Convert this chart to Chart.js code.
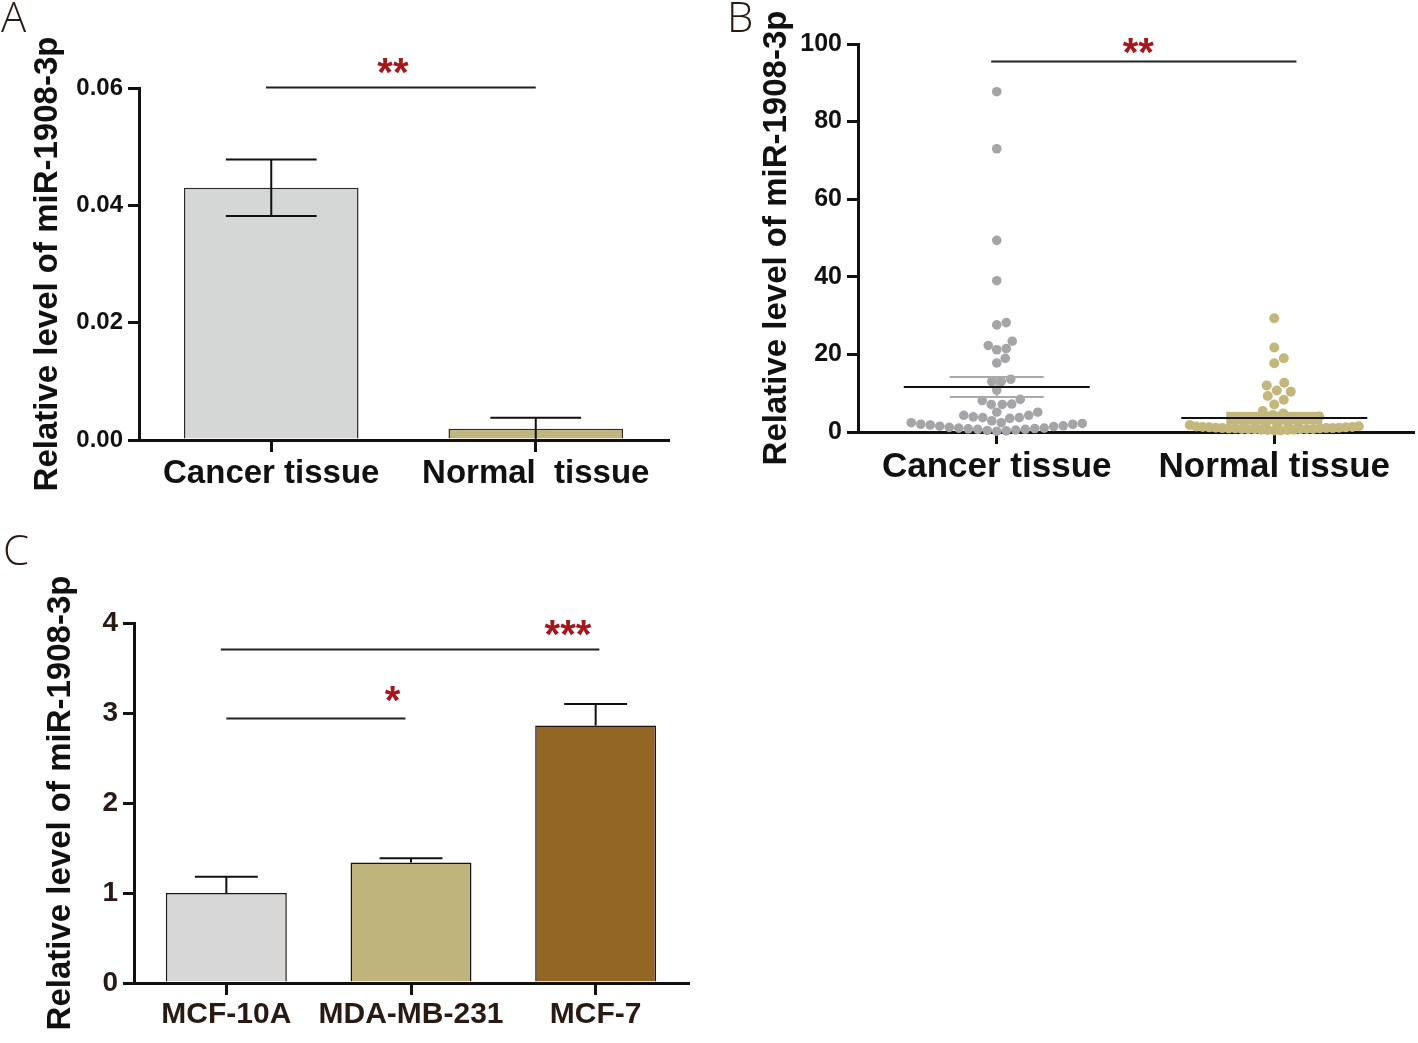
<!DOCTYPE html>
<html>
<head>
<meta charset="utf-8">
<script src="https://cdn.jsdelivr.net/npm/chart.js@4.4.1/dist/chart.umd.min.js"></script>
<style>
  body { margin: 0; background: #fff; }
  #wrap { position: relative; width: 1418px; height: 1043px; overflow: hidden; background: #fff; }
  canvas { position: absolute; }
  .tag { position: absolute; font-family: "Open Sans", "DejaVu Sans", sans-serif; font-weight: 300; font-size: 42px; line-height: 1; color: #2b1a14; }
</style>
</head>
<body>
<div id="wrap">
  <canvas id="chartA" width="700" height="500" style="left:0px;top:0px"></canvas>
  <canvas id="chartB" width="698" height="500" style="left:720px;top:0px"></canvas>
  <canvas id="chartC" width="700" height="513" style="left:0px;top:530px"></canvas>
  <div class="tag" style="left:1px;top:-5px">A</div>
  <div class="tag" style="left:727px;top:-5px">B</div>
  <div class="tag" style="left:3px;top:528px">C</div>
</div>
<script>
// ---------- data ----------
// A: tissue, mean +/- SEM
const tissueLabelsA = ["Cancer tissue", "Normal  tissue"];
const meanA = [0.043, 0.0019];
const semA = [0.0048, 0.0019];
const colorsA = ["#d5d7d6", "#c0b57e"];

// B: individual samples
const tissueLabelsB = ["Cancer tissue", "Normal tissue"];
const cancerB = [87.7, 73.0, 49.4, 39.0, 28.2, 27.6, 23.4, 22.3, 21.5, 21.2,
  19.0, 17.8, 13.6, 13.0, 13.0, 10.8, 8.4, 8.1, 7.2, 7.1,
  7.1, 5.1, 5.1, 4.3, 4.3, 3.9, 3.7, 3.7, 3.5, 2.9,
  2.4, 2.4, 2.2, 2.0, 2.0, 1.8, 1.6, 1.5, 1.4, 1.2,
  1.0, 1.0, 0.9, 0.8, 0.7, 0.7, 0.5, 0.4, 0.3, 0.2];
const normalB = [29.3, 21.8, 19.0, 17.7, 12.7, 12.0, 10.7, 10.4, 9.3, 8.3,
  7.1, 5.4, 4.8, 4.4, 4.0, 3.6, 3.3, 3.0, 2.7, 2.5,
  2.3, 2.1, 1.9, 1.8, 1.5, 1.4, 1.3, 1.3, 1.2, 1.2,
  1.1, 1.1, 1.0, 1.0, 1.0, 0.9, 0.9, 0.9, 0.8, 0.8,
  0.8, 0.7, 0.7, 0.7, 0.6, 0.6, 0.5, 0.5, 0.4, 0.4];
const meanB = [11.6, 3.6];
const semB = [2.6, 1.6];

// C: cell lines
const cellLabelsC = ["MCF-10A", "MDA-MB-231", "MCF-7"];
const meanC = [1.0, 1.34, 2.86];
const semC = [0.18, 0.045, 0.24];
const colorsC = ["#d7d7d7", "#bfb47c", "#936624"];

// significance bars (x in category units, y in data units)
const sigA = [{ from: -0.02, to: 1, y: 0.0601, textX: 0.46, textY: 0.0636, text: "**" }];
const sigB = [{ from: -0.02, to: 1.08, y: 95.5, textX: 0.51, textY: 99.2, text: "**" }];
const sigC = [
  { from: 0, to: 0.97, y: 2.94, textX: 0.9, textY: 3.2, text: "*" },
  { from: -0.03, to: 2.02, y: 3.71, textX: 1.85, textY: 3.93, text: "***" }
];

const yTitle = "Relative level of miR-1908-3p";

// ---------- styles ----------
const INK = "#111";
const BROWN = "#2a1a14";
const RED = "#a3171d";
const arial = '"Liberation Sans", Arial, sans-serif';

// ---------- helpers ----------
function errorBars(sem, both) {
  return {
    id: "errorBars",
    afterDatasetsDraw(chart) {
      const { ctx, scales: { y } } = chart;
      const values = chart.data.datasets[0].data;
      ctx.save();
      ctx.strokeStyle = INK;
      ctx.lineWidth = 2;
      chart.getDatasetMeta(0).data.forEach((bar, i) => {
        const top = y.getPixelForValue(values[i] + sem[i]);
        const bottom = both ? y.getPixelForValue(values[i] - sem[i]) : bar.y;
        const half = bar.width * 0.26;
        ctx.beginPath();
        ctx.moveTo(bar.x, top); ctx.lineTo(bar.x, bottom);
        ctx.moveTo(bar.x - half, top); ctx.lineTo(bar.x + half, top);
        if (both) { ctx.moveTo(bar.x - half, bottom); ctx.lineTo(bar.x + half, bottom); }
        ctx.stroke();
      });
      ctx.restore();
    }
  };
}

function sigMarks(marks) {
  return {
    id: "sigMarks",
    afterDraw(chart) {
      const { ctx, scales: { x, y } } = chart;
      ctx.save();
      marks.forEach(m => {
        const py = Math.round(y.getPixelForValue(m.y)) + 0.5;
        ctx.strokeStyle = "#222";
        ctx.lineWidth = 2;
        ctx.beginPath();
        ctx.moveTo(x.getPixelForValue(m.from), py);
        ctx.lineTo(x.getPixelForValue(m.to), py);
        ctx.stroke();
        ctx.fillStyle = RED;
        ctx.font = "bold 40px " + arial;
        ctx.textAlign = "center";
        ctx.textBaseline = "middle";
        ctx.fillText(m.text, x.getPixelForValue(m.textX), y.getPixelForValue(m.textY) + 8);
      });
      ctx.restore();
    }
  };
}

function axisX(fontSize, color, height) {
  return {
    z: 1,
    grid: { offset: false, drawOnChartArea: false, tickLength: 12, lineWidth: 3, color: INK },
    border: { width: 3, color: INK },
    ticks: { font: { family: arial, size: fontSize, weight: "bold" }, color, padding: 2, maxRotation: 0, autoSkip: false },
    afterFit: (s) => { s.height = height; }
  };
}

function axisY(min, max, step, fmt, fontSize, color, width, titlePad) {
  return {
    min, max,
    grid: { drawOnChartArea: false, tickLength: 11, lineWidth: 3, color: INK },
    border: { width: 3, color: INK },
    ticks: { stepSize: step, callback: fmt, font: { family: arial, size: fontSize, weight: "bold" }, color, padding: 5 },
    title: { display: true, text: yTitle, color: INK, font: { family: arial, size: 33, weight: "bold" }, padding: { top: titlePad, bottom: 0 } },
    afterFit: (s) => { s.width = width; }
  };
}

const base = {
  responsive: false,
  animation: false,
  plugins: { legend: { display: false }, tooltip: { enabled: false } }
};

// ---------- A ----------
new Chart(document.getElementById("chartA"), {
  type: "bar",
  data: {
    labels: tissueLabelsA,
    datasets: [{ data: meanA, backgroundColor: colorsA, borderColor: "#2a2a2a", borderWidth: 1.5,
      barPercentage: 0.66, categoryPercentage: 1 }]
  },
  options: {
    ...base,
    layout: { padding: { top: 88, right: 32, left: 0, bottom: 0 } },
    scales: {
      x: axisX(33, INK, 60),
      y: axisY(0, 0.06, 0.02, v => v.toFixed(2), 24, INK, 139, 28)
    }
  },
  plugins: [errorBars(semA, true), sigMarks(sigA)]
});

// ---------- B ----------
const chartB = new Chart(document.getElementById("chartB"), {
  type: "scatter",
  data: {
    datasets: [
      { data: cancerB.map(v => ({ x: 0, y: v })), backgroundColor: "#a5a5a7", pointRadius: 4.8, borderWidth: 0, clip: false },
      { data: normalB.map(v => ({ x: 1, y: v })), backgroundColor: "#c4b77c", pointRadius: 5, borderWidth: 0, clip: false }
    ]
  },
  options: {
    ...base,
    layout: { padding: { top: 44, right: 5, left: 0, bottom: 0 } },
    scales: {
      x: {
        ...axisX(35, INK, 68),
        type: "linear", min: -0.5, max: 1.5,
        afterBuildTicks: (s) => { s.ticks = tissueLabelsB.map((_, i) => ({ value: i })); },
        ticks: { font: { family: arial, size: 35, weight: "bold" }, color: INK, padding: 2, maxRotation: 0, autoSkip: false,
          callback: v => tissueLabelsB[v] }
      },
      y: axisY(0, 100, 20, v => v, 25, INK, 138, 37)
    }
  },
  plugins: [{
    id: "meanSem",
    afterDatasetsDraw(chart) {
      const { ctx, scales: { x, y } } = chart;
      ctx.save();
      meanB.forEach((m, c) => {
        const cx = x.getPixelForValue(c);
        const hi = y.getPixelForValue(m + semB[c]);
        const lo = y.getPixelForValue(m - semB[c]);
        if (c === 0) {
          ctx.strokeStyle = "#a9a9a9";
          ctx.lineWidth = 2;
          ctx.beginPath();
          ctx.moveTo(cx - 47, hi); ctx.lineTo(cx + 47, hi);
          ctx.moveTo(cx - 47, lo); ctx.lineTo(cx + 47, lo);
          ctx.moveTo(cx, hi); ctx.lineTo(cx, lo);
          ctx.stroke();
        } else {
          ctx.fillStyle = "#c4b77c";
          ctx.fillRect(cx - 48, hi, 96, lo - hi);
        }
        const my = y.getPixelForValue(m);
        ctx.strokeStyle = INK;
        ctx.lineWidth = 2;
        ctx.beginPath();
        ctx.moveTo(cx - 93, my); ctx.lineTo(cx + 93, my);
        ctx.stroke();
      });
      ctx.restore();
    }
  }, sigMarks(sigB)]
});

// spread points sideways (beeswarm) using the chart's own scales;
// points hugging the axis may pack tighter, as in the original
function swarm(values, yScale, gap, floorGap) {
  const order = values.map((_, i) => i).sort((a, b) => values[a] - values[b]);
  const floorPx = yScale.getPixelForValue(0) - 6.5;
  const placed = [];
  const off = new Array(values.length).fill(0);
  order.forEach(i => {
    const py = yScale.getPixelForValue(values[i]);
    for (let k = 0; k < 1200; k++) {
      const dx = (k % 2 ? 1 : -1) * Math.ceil(k / 2) * 0.5;
      const clear = placed.every(p => {
        const g = (p.y > floorPx || py > floorPx) ? floorGap : gap;
        return (p.x - dx) ** 2 + (p.y - py) ** 2 >= g * g;
      });
      if (clear) {
        off[i] = dx;
        placed.push({ x: dx, y: py });
        break;
      }
    }
  });
  return off;
}
const pxPerCat = chartB.scales.x.getPixelForValue(1) - chartB.scales.x.getPixelForValue(0);
[cancerB, normalB].forEach((vals, c) => {
  const off = c === 0 ? swarm(vals, chartB.scales.y, 9.5, 9.5) : swarm(vals, chartB.scales.y, 10.5, 6.5);
  chartB.data.datasets[c].data = vals.map((v, i) => ({ x: c + off[i] / pxPerCat, y: v }));
});
chartB.update("none");

// ---------- C ----------
new Chart(document.getElementById("chartC"), {
  type: "bar",
  data: {
    labels: cellLabelsC,
    datasets: [{ data: meanC, backgroundColor: colorsC, borderColor: "#1c1410", borderWidth: 1.5,
      barPercentage: 0.655, categoryPercentage: 1 }]
  },
  options: {
    ...base,
    layout: { padding: { top: 93, right: 12, left: 0, bottom: 0 } },
    scales: {
      x: axisX(30, BROWN, 60),
      y: axisY(0, 4, 1, v => v, 28, BROWN, 134, 41)
    }
  },
  plugins: [errorBars(semC, false), sigMarks(sigC)]
});
</script>
</body>
</html>
